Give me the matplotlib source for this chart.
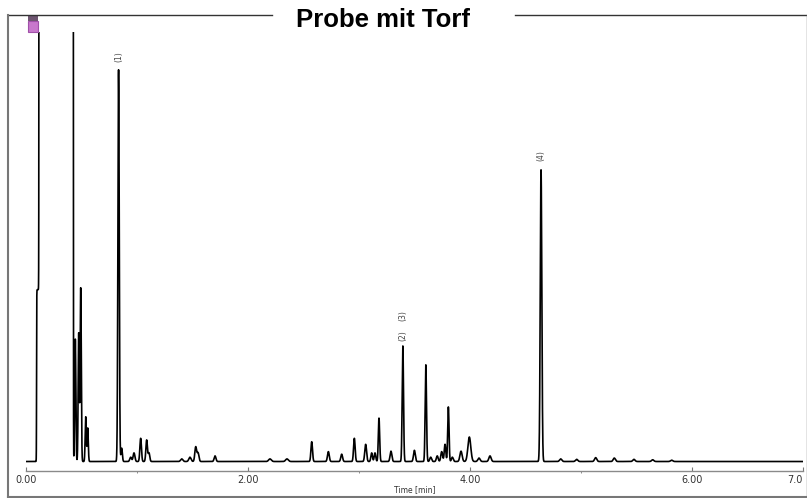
import numpy as np
import matplotlib
matplotlib.use("Agg")
import matplotlib.pyplot as plt
from matplotlib.lines import Line2D
from matplotlib.patches import Rectangle

# ---- data ----
peak_times = [0.444, 0.475, 0.493, 0.538, 0.556,
              0.834, 0.862, 0.943, 0.973, 1.033, 1.087, 1.108,
              1.403, 1.477, 1.529, 1.550, 1.703, 2.198, 2.351,
              2.574, 2.724, 2.844, 2.958, 3.060, 3.114, 3.144, 3.180, 3.288,
              3.395, 3.499, 3.602, 3.646, 3.705, 3.745, 3.775, 3.805, 3.841,
              3.919, 3.994, 4.081, 4.180,
              4.640, 4.817, 4.961, 5.132, 5.300, 5.477, 5.646, 5.817]
peak_heights = [28.5, 29.9, 40.4, 10.4, 7.8,
                91.2, 3.1, 1.0, 2.0, 5.4, 5.0, 2.0,
                0.6, 1.0, 3.4, 2.0, 1.3, 0.6, 0.6,
                4.6, 2.3, 1.7, 5.4, 4.0, 2.0, 2.0, 10.1, 2.4,
                26.9, 2.6, 22.5, 1.0, 1.3, 2.3, 4.0, 12.7, 1.0,
                2.4, 5.7, 0.8, 1.3,
                67.9, 0.6, 0.5, 0.9, 0.8, 0.5, 0.4, 0.3]
peak_widths = [0.005, 0.005, 0.005, 0.005, 0.005,
               0.006, 0.006, 0.008, 0.008, 0.007, 0.007, 0.007,
               0.010, 0.010, 0.008, 0.008, 0.008, 0.012, 0.012,
               0.007, 0.008, 0.008, 0.007, 0.008, 0.007, 0.007, 0.006, 0.008,
               0.006, 0.008, 0.006, 0.008, 0.008, 0.008, 0.007, 0.006, 0.008,
               0.010, 0.013, 0.010, 0.010,
               0.007, 0.010, 0.010, 0.010, 0.010, 0.010, 0.010, 0.010]

# solvent front: (start, end, level) plateaus
solvent_start = [0.095, 0.118]
solvent_end = [0.425, 0.425]
solvent_level = [40.0, 1000.0]

labels_text = ["(1)", "(2)", "(3)", "(4)"]
labels_time = [0.834, 3.395, 3.395, 4.640]
labels_y = [93.0, 28.1, 32.7, 70.0]

xtick_vals = [0.0, 2.0, 4.0, 6.0, 7.0]
xtick_labels = ["0.00", "2.00", "4.00", "6.00", "7.0"]
minor_ticks = [1.0, 3.0, 5.0]

title = "Probe mit Torf"
xlabel = "Time [min]"

# ---- build trace ----
t = np.arange(0.0, 7.0005, 0.0005)
y = np.zeros_like(t)
for s, e, lv in zip(solvent_start, solvent_end, solvent_level):
    y += lv * 0.5 * (1 + np.tanh((t - s) / 0.0015)) * 0.5 * (1 - np.tanh((t - e) / 0.0015))
for tc, h, w in zip(peak_times, peak_heights, peak_widths):
    y += h * np.exp(-0.5 * ((t - tc) / w) ** 2)

W, H = 807, 498
fig = plt.figure(figsize=(W / 100, H / 100), dpi=100)
fig.patch.set_facecolor("white")

ax = fig.add_axes([26 / W, 1 - 471 / H, (803 - 26) / W, (471 - 32) / H])
ax.plot(t, y, color="black", lw=1.2)
ax.set_xlim(0, 7.0)
ax.set_ylim(-2.21, 100)
for sp in ["top", "left", "right"]:
    ax.spines[sp].set_visible(False)
ax.spines["bottom"].set_color("#8a8a8a")
ax.spines["bottom"].set_linewidth(1.0)
ax.set_yticks([])
ax.set_xticks(xtick_vals)
ax.set_xticklabels(xtick_labels, fontsize=7, color="#333333")
ax.set_xticks(minor_ticks, minor=True)
ax.tick_params(axis="x", which="major", direction="in", length=3, color="#777777", pad=3)
ax.tick_params(axis="x", which="minor", direction="out", length=1.5, color="#777777")
xl = ax.get_xticklabels()
xl[-1].set_horizontalalignment("right")

for txt, tx, ty in zip(labels_text, labels_time, labels_y):
    ax.text(tx, ty, txt, rotation=90, fontsize=5.5, color="#444444",
            ha="center", va="bottom")

fig.text(414.5 / W, 1 - 490 / H, xlabel, fontsize=5.5, color="#333333",
         ha="center", va="center")

# frame around the whole chart
def px_line(x0, y0, x1, y1, c="#444444", lw=1.0):
    fig.add_artist(Line2D([x0 / W, x1 / W], [1 - y0 / H, 1 - y1 / H],
                          transform=fig.transFigure, color=c, lw=lw))

px_line(7.5, 15.5, 272, 15.5, c="#333333")
px_line(515, 15.5, 806.5, 15.5, c="#333333")
px_line(7.5, 15.5, 7.5, 496.5, c="#777777", lw=1.5)
px_line(7.5, 496.5, 806.5, 496.5, c="#777777", lw=1.5)
px_line(806.5, 15.5, 806.5, 496.5, c="#777777", lw=1.0)

fig.text(383.5 / W, 1 - 27 / H, title, fontsize=18.5, fontweight="bold",
         family="Liberation Sans", ha="center", va="baseline", color="black")

# small purple marker icon at the top-left
fig.add_artist(Rectangle((27.5 / W, 1 - 32 / H), 10 / W, 11 / H,
                         transform=fig.transFigure, facecolor="#c878cc",
                         edgecolor="#a050a8", lw=0.8))
fig.add_artist(Rectangle((27.5 / W, 1 - 21 / H), 10 / W, 6 / H,
                         transform=fig.transFigure, facecolor="#6e5570",
                         edgecolor="none"))

fig.savefig("out.png", dpi=100, facecolor="white")
